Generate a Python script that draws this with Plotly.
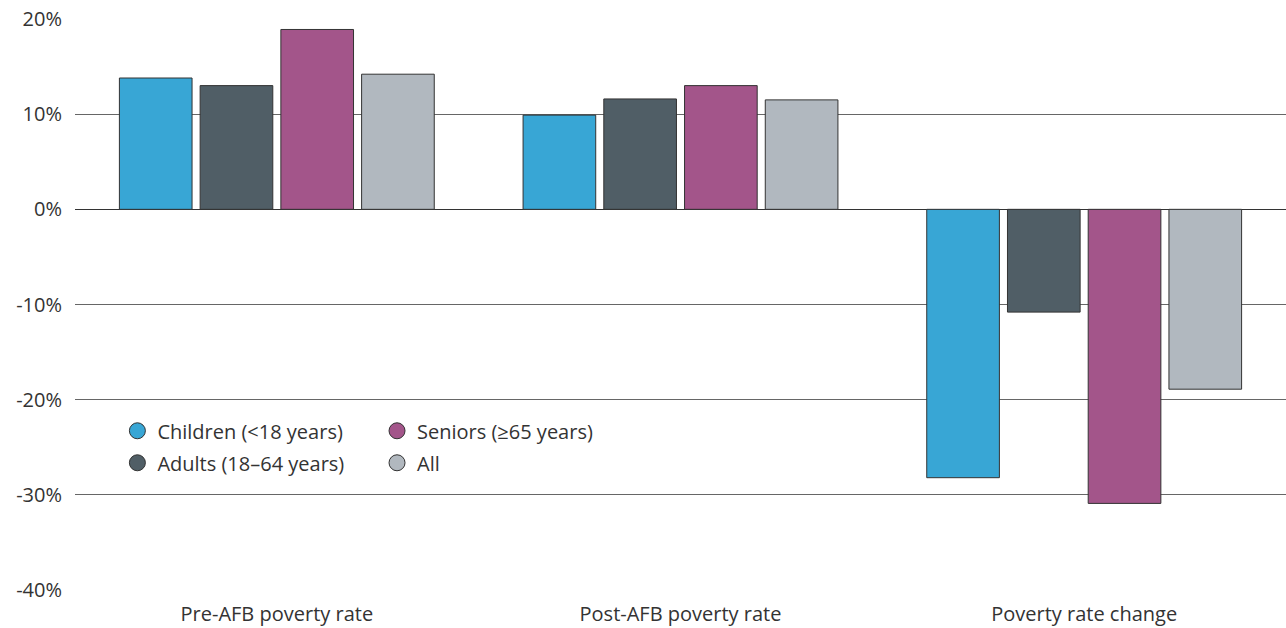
import plotly.graph_objects as go

categories = ["Pre-AFB poverty rate", "Post-AFB poverty rate", "Poverty rate change"]
children = [13.8, 9.9, -28.2]
adults = [13.0, 11.6, -10.8]
seniors = [18.9, 13.0, -30.9]
all_people = [14.2, 11.5, -18.9]

y_ticks = [20, 10, 0, -10, -20, -30, -40]
y_tick_labels = ["20%", "10%", "0%", "-10%", "-20%", "-30%", "-40%"]

# name, values, colour, legend column
series = [
    ("Children (<18 years)", children, "#38A6D5", "legend"),
    ("Adults (18\u201364 years)", adults, "#505E66", "legend"),
    ("Seniors (\u226565 years)", seniors, "#A3558A", "legend2"),
    ("All", all_people, "#B1B8BF", "legend2"),
]

FONT = "Open Sans, Noto Sans, sans-serif"
TEXT = "#333333"

fig = go.Figure()
for name, vals, color, leg in series:
    fig.add_trace(go.Bar(
        x=categories, y=vals, name=name,
        marker=dict(color=color, line=dict(color="#333333", width=1)),
        showlegend=False, legendgroup=name,
    ))
    # circle swatch for the legend
    fig.add_trace(go.Scatter(
        x=[None], y=[None], mode="markers", name=name,
        marker=dict(symbol="circle", size=20, color=color,
                    line=dict(color="#333333", width=1)),
        legendgroup=name, legend=leg, showlegend=True,
    ))

legend_style = dict(
    orientation="v", yanchor="top", xanchor="left",
    font=dict(size=20, color=TEXT, family=FONT),
    bgcolor="rgba(0,0,0,0)", tracegroupgap=3, itemwidth=30,
)

fig.update_layout(
    width=1286, height=628,
    margin=dict(l=75, r=0, t=19, b=38),
    paper_bgcolor="white", plot_bgcolor="white",
    barmode="group", bargap=0.2, bargroupgap=0.1,
    font=dict(family=FONT, size=20, color=TEXT),
    xaxis=dict(showgrid=False, showline=False, ticks="",
               tickfont=dict(size=20, color=TEXT), ticklabelstandoff=10),
    yaxis=dict(range=[-40, 20], tickvals=y_ticks, ticktext=y_tick_labels,
               showgrid=True, gridcolor="#666666", gridwidth=1,
               zeroline=True, zerolinecolor="#333333", zerolinewidth=1,
               tickfont=dict(size=20, color=TEXT), ticklabelstandoff=12),
    legend=dict(x=0.035, y=0.313, **legend_style),
    legend2=dict(x=0.2494, y=0.313, **legend_style),
)

fig.write_html("out.html")
